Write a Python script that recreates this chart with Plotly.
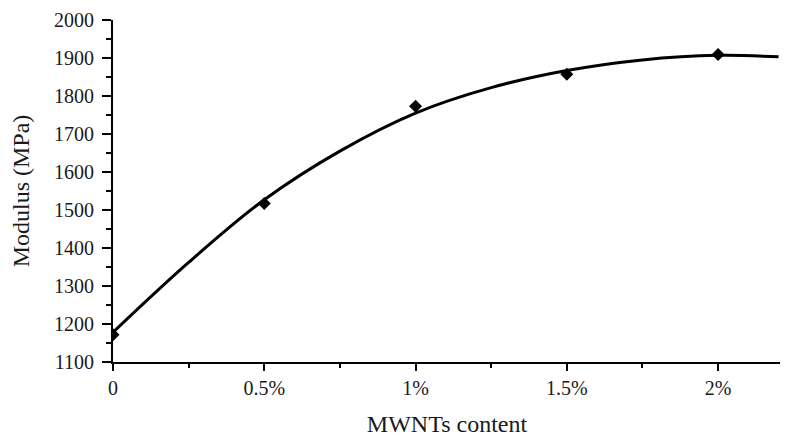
import plotly.graph_objects as go

# measured data points
content = [0, 0.5, 1.0, 1.5, 2.0]
modulus = [1172, 1517, 1773, 1857, 1909]

# fitted trend curve
curve_x = [0, 0.25, 0.5, 0.75, 1.0, 1.25, 1.5, 1.75, 2.0, 2.2]
curve_y = [1178, 1362, 1527, 1655, 1755, 1822, 1867, 1895, 1907, 1903]

x_tickvals = [0, 0.5, 1.0, 1.5, 2.0]
x_ticktext = ["0", "0.5%", "1%", "1.5%", "2%"]
y_tickvals = [1100, 1200, 1300, 1400, 1500, 1600, 1700, 1800, 1900, 2000]

FONT = "Liberation Serif, Times New Roman, serif"

fig = go.Figure()
fig.add_trace(go.Scatter(
    x=curve_x, y=curve_y, mode="lines",
    line=dict(color="black", width=3, shape="spline", smoothing=1.0),
    hoverinfo="skip", showlegend=False))
fig.add_trace(go.Scatter(
    x=content, y=modulus, mode="markers",
    marker=dict(symbol="diamond", size=10, color="black"), showlegend=False))

# the page body adds an 8px offset, so the figure is sized to fit the window
fig.update_layout(
    width=780, height=429,
    margin=dict(l=105, r=7, t=12, b=75),
    paper_bgcolor="white", plot_bgcolor="white",
    font=dict(family=FONT, size=20, color="#1a1a1a"),
)
fig.update_xaxes(
    range=[0, 2.208], tickmode="array", tickvals=x_tickvals, ticktext=x_ticktext,
    automargin=False, ticklabeloverflow="allow",
    showline=True, linecolor="black", linewidth=2, showgrid=False, zeroline=False,
    ticks="outside", ticklen=7, tickwidth=2, tickcolor="black",
    minor=dict(dtick=0.25, ticks="outside", ticklen=4, tickwidth=2, tickcolor="black", showgrid=False),
    title=dict(text="MWNTs content", standoff=18, font=dict(size=24)),
)
fig.update_yaxes(
    range=[1100, 2000], tickmode="array", tickvals=y_tickvals,
    automargin=False, ticklabeloverflow="allow",
    showline=True, linecolor="black", linewidth=2, showgrid=False, zeroline=False,
    ticks="outside", ticklen=9, tickwidth=2, tickcolor="black", ticklabelstandoff=4,
    minor=dict(dtick=50, tick0=1100, ticks="outside", ticklen=5, tickwidth=2, tickcolor="black", showgrid=False),
    title=dict(text="Modulus (MPa)", standoff=18, font=dict(size=24)),
)

fig.write_html("out.html")
